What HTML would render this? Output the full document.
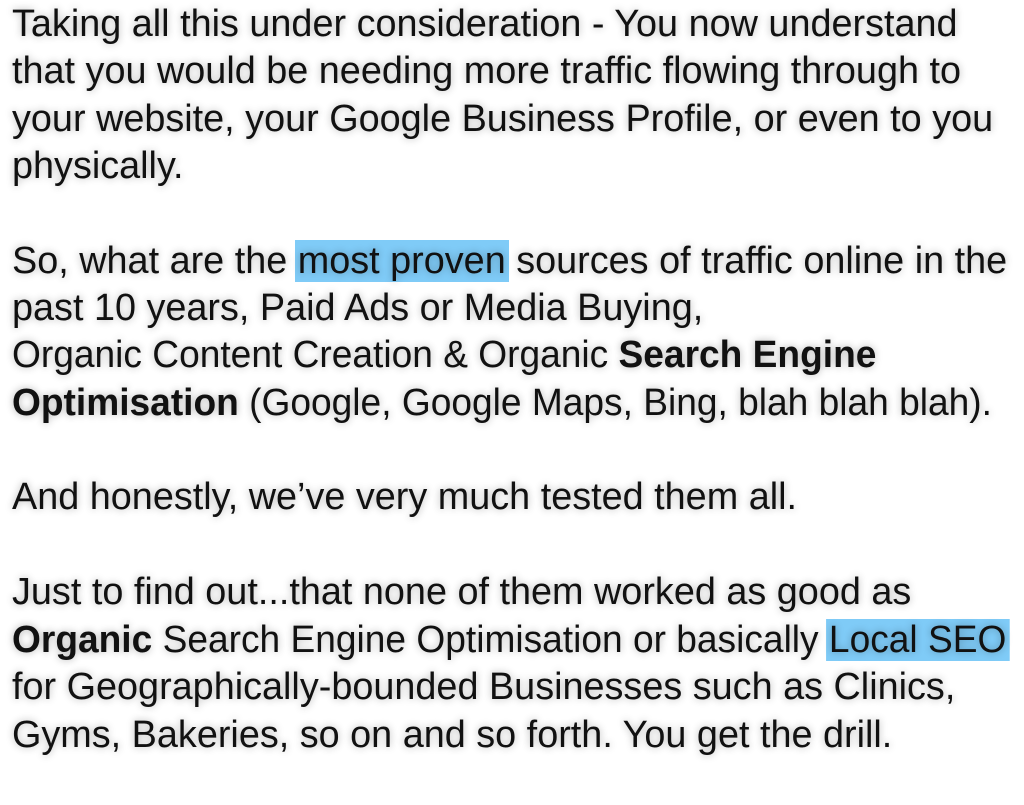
<!DOCTYPE html>
<html><head><meta charset="utf-8"><style>
html,body{margin:0;padding:0;background:#fff;width:1024px;height:805px;overflow:hidden}
.l{position:absolute;left:12px;font-family:"Liberation Sans",sans-serif;font-size:37.8px;line-height:47px;color:#111;white-space:nowrap;text-shadow:0 0 8px rgba(0,0,0,0.3);transform-origin:0 50%}
.h{background:#7fcbf7;padding:0 3px;margin:0 -3px}
b{font-weight:bold}
</style></head><body>
<div class="l" style="top:1px">Taking all this under consideration - You now understand</div>
<div class="l" style="top:48px">that you would be needing more traffic flowing through to</div>
<div class="l" style="top:96px">your website, your Google Business Profile, or even to you</div>
<div class="l" style="top:143px">physically.</div>
<div class="l" style="top:238px">So, what are the <span class="h">most proven</span> sources of traffic online in the</div>
<div class="l" style="top:285px">past 10 years, Paid Ads or Media Buying,</div>
<div class="l" style="top:332px;transform:scaleX(0.982)">Organic Content Creation &amp; Organic <b>Search Engine</b></div>
<div class="l" style="top:380px;transform:scaleX(0.982)"><b>Optimisation</b> (Google, Google Maps, Bing, blah blah blah).</div>
<div class="l" style="top:474px">And honestly, we’ve very much tested them all.</div>
<div class="l" style="top:569px">Just to find out...that none of them worked as good as</div>
<div class="l" style="top:617px;transform:scaleX(0.982)"><b>Organic</b> Search Engine Optimisation or basically <span class="h">Local SEO</span></div>
<div class="l" style="top:664px">for Geographically-bounded Businesses such as Clinics,</div>
<div class="l" style="top:712px">Gyms, Bakeries, so on and so forth. You get the drill.</div>
</body></html>
